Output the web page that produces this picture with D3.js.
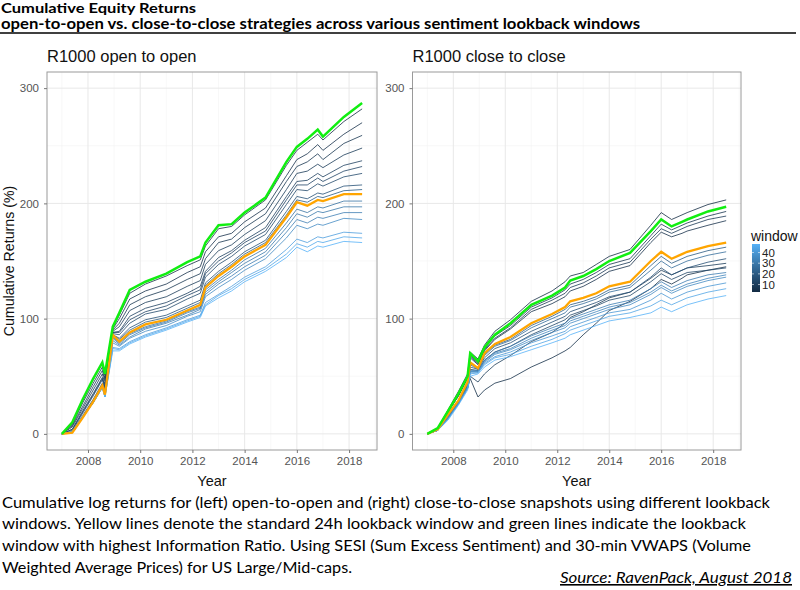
<!DOCTYPE html>
<html><head><meta charset="utf-8">
<script src="https://cdn.jsdelivr.net/npm/d3@7"></script>
<style>body{margin:0;background:#fff}svg{display:block}</style>
</head><body>
<svg id="chart" width="800" height="590"></svg>
<script>
// ---------- DATA ----------
const years = [2007.0, 2007.4, 2007.8, 2008.2, 2008.55, 2008.65, 2008.95, 2009.2, 2009.6, 2010.2, 2011.0, 2011.8, 2012.3, 2012.5, 2013.0, 2013.5, 2014.0, 2014.8, 2015.6, 2016.0, 2016.4, 2016.8, 2017.0, 2017.8, 2018.5];
const xTicks = [2008, 2010, 2012, 2014, 2016, 2018];
const yTicks = [0, 100, 200, 300];
const legendTicks = [10, 20, 30, 40];
const windowRange = [3, 48];

// open-to-open panel
const oo_green  = [0,10,30,48,62,52,93,105,125,132,139,149,154,166,181,182,192,205,236,249,256,264,258,275,287];
const oo_yellow = [0,1,14,28,42,34,86,80,88,95,99,107,112,127,137,145,154,164,188,201,198,203,202,208,208];
const oo_w3  = [0,9,29,47,61,51,92,103,122,130,137,146,151,163,178,180,190,203,233,246,253,260,255,271,282];
const oo_w5  = [0,8,27,44,58,48,91,100,117,124,130,140,145,158,171,174,184,196,224,238,243,251,246,260,270];
const oo_w7  = [0,7,24,41,55,46,90,96,112,119,125,134,139,152,166,169,179,191,219,232,236,243,238,252,259];
const oo_w9  = [0,6,22,38,52,43,89,93,107,114,119,128,133,147,159,164,173,185,212,226,228,234,231,242,248];
const oo_w11 = [0,4,20,35,49,41,88,89,102,109,114,122,128,141,153,159,168,179,206,219,220,226,223,233,237];
const oo_w12 = [0,4,19,34,48,40,88,88,99,106,111,120,125,139,150,157,166,176,203,216,216,222,219,228,232];
const oo_w14 = [0,3,18,33,47,38,87,86,96,104,108,117,122,136,147,154,163,173,199,212,211,217,215,223,226];
const oo_w17 = [0,2,16,30,44,36,86,83,92,99,103,111,116,131,141,149,158,168,193,206,204,209,208,215,216];
const oo_w20 = [0,2,15,29,43,35,86,82,90,97,101,109,114,129,139,147,156,166,190,203,201,206,205,211,212];
const oo_w28 = [0,1,14,28,42,34,84,79,87,93,98,106,110,125,134,142,151,161,183,195,192,197,196,202,202];
const oo_w30 = [0,1,14,28,42,34,83,78,86,92,97,105,109,123,132,140,148,158,179,191,188,193,192,197,197];
const oo_w32 = [0,1,14,27,41,33,81,77,84,91,96,103,108,121,130,137,145,155,175,186,183,188,187,192,192];
const oo_w36 = [0,2,15,27,41,33,79,76,83,89,94,102,106,119,127,134,142,152,170,181,178,182,181,187,186];
const oo_w42 = [0,2,15,27,40,32,75,74,80,86,92,99,103,114,121,128,136,145,160,169,166,171,170,175,174];
const oo_w45 = [0,2,15,27,40,32,74,73,79,85,91,98,102,112,120,126,134,143,156,165,162,167,166,171,170];
const oo_w48 = [0,2,15,27,40,32,72,72,78,84,90,97,101,111,118,124,132,141,153,162,158,163,162,167,166];

// close-to-close panel
const cc_green  = [0,5,20,35,50,70,63,75,86,96,112,120,127,133,137,143,150,157,176,186,180,184,186,193,197];
const cc_yellow = [0,4,17,29,45,62,57,70,78,84,96,104,110,115,118,122,128,132,150,158,152,156,158,163,166];
const cc_w3  = [0,5,21,37,52,71,65,77,89,99,115,124,132,137,140,147,154,160,181,192,186,190,192,199,203];
const cc_w4  = [0,3,14,27,40,48,32,38,44,48,58,66,72,75,86,96,107,115,126,134,130,135,138,142,145];
const cc_w5  = [0,4,19,33,48,66,60,72,82,91,106,113,119,124,128,134,141,146,166,175,171,174,176,181,185];
const cc_w6  = [0,5,20,34,50,68,62,74,85,94,110,118,125,130,134,140,147,152,172,182,177,181,183,189,193];
const cc_w8  = [0,4,19,33,49,67,61,73,83,92,108,116,122,127,131,137,144,149,169,178,174,178,180,186,189];
const cc_w9  = [0,3,14,27,40,50,45,52,60,68,80,88,96,101,106,112,118,123,135,142,138,142,144,146,148];
const cc_w13 = [0,4,16,28,42,56,55,64,71,76,86,94,99,103,107,111,116,120,132,139,134,138,140,142,144];
const cc_w16 = [0,4,16,28,43,58,56,66,74,79,89,97,102,106,110,114,119,123,136,144,138,142,144,149,152];
const cc_w20 = [0,4,17,29,44,61,57,69,77,82,94,102,108,112,115,119,125,129,146,154,148,152,154,159,162];
const cc_w26 = [0,4,16,28,44,60,56,68,76,81,92,100,105,110,113,117,123,127,142,150,144,148,150,155,158];
const cc_w32 = [0,3,15,27,41,55,55,64,71,76,85,92,96,100,104,108,112,116,126,132,127,131,133,138,140];
const cc_w34 = [0,3,14,27,40,54,54,63,70,74,83,90,94,98,102,106,110,114,123,129,124,128,130,135,138];
const cc_w36 = [0,3,14,26,40,54,54,62,69,73,81,88,92,96,100,104,108,112,121,127,122,126,128,133,136];
const cc_w40 = [0,3,13,26,40,53,53,61,67,71,79,85,89,93,97,101,105,108,116,122,117,121,123,128,131];
const cc_w44 = [0,3,13,26,39,52,53,60,66,69,76,82,87,90,94,98,102,105,111,116,112,116,118,123,126];
const cc_w48 = [0,3,12,25,38,50,52,58,64,67,73,79,83,86,90,94,98,101,105,110,106,110,112,117,120];

const ooLines = [[3,oo_w3],[5,oo_w5],[7,oo_w7],[9,oo_w9],[11,oo_w11],[12,oo_w12],[14,oo_w14],[17,oo_w17],[20,oo_w20],[28,oo_w28],[30,oo_w30],[32,oo_w32],[36,oo_w36],[42,oo_w42],[45,oo_w45],[48,oo_w48]];
const ccLines = [[3,cc_w3],[4,cc_w4],[5,cc_w5],[6,cc_w6],[8,cc_w8],[9,cc_w9],[13,cc_w13],[16,cc_w16],[20,cc_w20],[26,cc_w26],[32,cc_w32],[34,cc_w34],[36,cc_w36],[40,cc_w40],[44,cc_w44],[48,cc_w48]];

// ---------- DRAW ----------
const svg = d3.select("#chart");
const plotFont = "'Liberation Sans', Arial, sans-serif";
const docFont = "Lato, 'Open Sans', sans-serif";
const color = d3.scaleLinear().domain(windowRange).range(["#132B43", "#56B1F7"]).interpolate(d3.interpolateLab);

// header
svg.append("text").attr("x", 1).attr("y", 13).attr("font-family", docFont).attr("font-weight", "bold")
  .attr("font-size", 14).attr("textLength", 195).attr("lengthAdjust", "spacingAndGlyphs").text("Cumulative Equity Returns");
svg.append("text").attr("x", 1).attr("y", 28.5).attr("font-family", docFont).attr("font-weight", "bold")
  .attr("font-size", 14.5).attr("textLength", 639).attr("lengthAdjust", "spacingAndGlyphs")
  .text("open-to-open vs. close-to-close strategies across various sentiment lookback windows");
svg.append("line").attr("x1", 0).attr("x2", 796).attr("y1", 33).attr("y2", 33).attr("stroke", "#000").attr("stroke-width", 1.4);

const yTop = 72, yBot = 450;
const y = d3.scaleLinear().domain([-14, 314]).range([yBot, yTop]);

function drawPanel(x0, x1, title, lines, yellow, green) {
  const x = d3.scaleLinear().domain([2006.43, 2019.07]).range([x0, x1]);
  const g = svg.append("g");
  // grid
  const minorX = [2007, 2009, 2011, 2013, 2015, 2017, 2019];
  const minorY = [50, 150, 250];
  g.selectAll(".mx").data(minorX).join("line").attr("x1", d => x(d)).attr("x2", d => x(d))
    .attr("y1", yTop).attr("y2", yBot).attr("stroke", "#f3f3f3").attr("stroke-width", 0.6);
  g.selectAll(".my").data(minorY).join("line").attr("y1", d => y(d)).attr("y2", d => y(d))
    .attr("x1", x0).attr("x2", x1).attr("stroke", "#f3f3f3").attr("stroke-width", 0.6);
  g.selectAll(".gx").data(xTicks).join("line").attr("x1", d => x(d)).attr("x2", d => x(d))
    .attr("y1", yTop).attr("y2", yBot).attr("stroke", "#e8e8e8").attr("stroke-width", 1);
  g.selectAll(".gy").data(yTicks).join("line").attr("y1", d => y(d)).attr("y2", d => y(d))
    .attr("x1", x0).attr("x2", x1).attr("stroke", "#e8e8e8").attr("stroke-width", 1);

  const line = d3.line().x((d, i) => x(years[i])).y(d => y(d));
  g.selectAll(".ser").data(lines).join("path").attr("fill", "none")
    .attr("stroke", d => color(d[0])).attr("stroke-width", 0.8).attr("d", d => line(d[1]));
  g.append("path").attr("fill", "none").attr("stroke", "#FFA500").attr("stroke-width", 2.3).attr("d", line(yellow));
  g.append("path").attr("fill", "none").attr("stroke", "#11EE11").attr("stroke-width", 2.5).attr("d", line(green));

  // border
  g.append("rect").attr("x", x0).attr("y", yTop).attr("width", x1 - x0).attr("height", yBot - yTop)
    .attr("fill", "none").attr("stroke", "#9a9a9a").attr("stroke-width", 1);

  // axes
  const ax = g.append("g").attr("transform", `translate(0,${yBot})`)
    .call(d3.axisBottom(x).tickValues(xTicks).tickFormat(d3.format("d")).tickSize(3).tickPadding(4));
  const ay = g.append("g").attr("transform", `translate(${x0},0)`)
    .call(d3.axisLeft(y).tickValues(yTicks).tickSize(3).tickPadding(5));
  [ax, ay].forEach(a => {
    a.select(".domain").remove();
    a.selectAll(".tick line").attr("stroke", "#777");
    a.selectAll(".tick text").attr("fill", "#555").attr("font-size", 11.5).attr("font-family", plotFont);
  });

  g.append("text").attr("x", x0).attr("y", 62).attr("font-family", plotFont).attr("font-size", 16.5)
    .attr("fill", "#111").text(title);
  g.append("text").attr("x", (x0 + x1) / 2).attr("y", 486).attr("text-anchor", "middle")
    .attr("font-family", plotFont).attr("font-size", 14.5).attr("fill", "#111").text("Year");
}

drawPanel(47, 377, "R1000 open to open", ooLines, oo_yellow, oo_green);
drawPanel(412.5, 741, "R1000 close to close", ccLines, cc_yellow, cc_green);

// y axis title
svg.append("text").attr("transform", `translate(14,${(yTop + yBot) / 2}) rotate(-90)`).attr("text-anchor", "middle")
  .attr("font-family", plotFont).attr("font-size", 14.2).attr("fill", "#111").text("Cumulative Returns (%)");

// legend
const ly = d3.scaleLinear().domain(windowRange).range([292, 244]);
const defs = svg.append("defs");
const grad = defs.append("linearGradient").attr("id", "wgrad").attr("x1", 0).attr("x2", 0).attr("y1", 1).attr("y2", 0);
d3.range(0, 11).forEach(i => {
  const v = windowRange[0] + (windowRange[1] - windowRange[0]) * i / 10;
  grad.append("stop").attr("offset", (i * 10) + "%").attr("stop-color", color(v));
});
svg.append("text").attr("x", 751).attr("y", 241).attr("font-family", plotFont).attr("font-size", 14)
  .attr("fill", "#111").text("window");
svg.append("rect").attr("x", 752).attr("y", 244).attr("width", 8).attr("height", 48).attr("fill", "url(#wgrad)");
svg.selectAll(".lt").data(legendTicks).join("line")
  .attr("x1", 752).attr("x2", 754).attr("y1", d => ly(d)).attr("y2", d => ly(d)).attr("stroke", "#fff").attr("stroke-width", 0.6);
svg.selectAll(".lt2").data(legendTicks).join("line")
  .attr("x1", 758).attr("x2", 760).attr("y1", d => ly(d)).attr("y2", d => ly(d)).attr("stroke", "#fff").attr("stroke-width", 0.6);
svg.selectAll(".ll").data(legendTicks).join("text").attr("x", 762).attr("y", d => ly(d) + 4)
  .attr("font-family", plotFont).attr("font-size", 11.5).attr("fill", "#222").text(d => d);

// caption
const captionLines = [
  ["Cumulative log returns for (left) open-to-open and (right) close-to-close snapshots using different lookback", 507.5, 768],
  ["windows. Yellow lines denote the standard 24h lookback window and green lines indicate the lookback", 529, 744],
  ["window with highest Information Ratio. Using SESI (Sum Excess Sentiment) and 30-min VWAPS (Volume", 551, 749],
  ["Weighted Average Prices) for US Large/Mid-caps.", 572.5, 350]
];
captionLines.forEach(([t, yy, len]) => {
  svg.append("text").attr("x", 2).attr("y", yy).attr("font-family", docFont).attr("font-size", 16)
    .attr("textLength", len).attr("lengthAdjust", "spacingAndGlyphs").attr("fill", "#000").text(t);
});
svg.append("text").attr("x", 560).attr("y", 583).attr("font-family", docFont).attr("font-size", 16)
  .attr("font-style", "italic").attr("text-decoration", "underline").attr("textLength", 232)
  .attr("lengthAdjust", "spacingAndGlyphs").text("Source: RavenPack, August 2018");
</script>
</body></html>
